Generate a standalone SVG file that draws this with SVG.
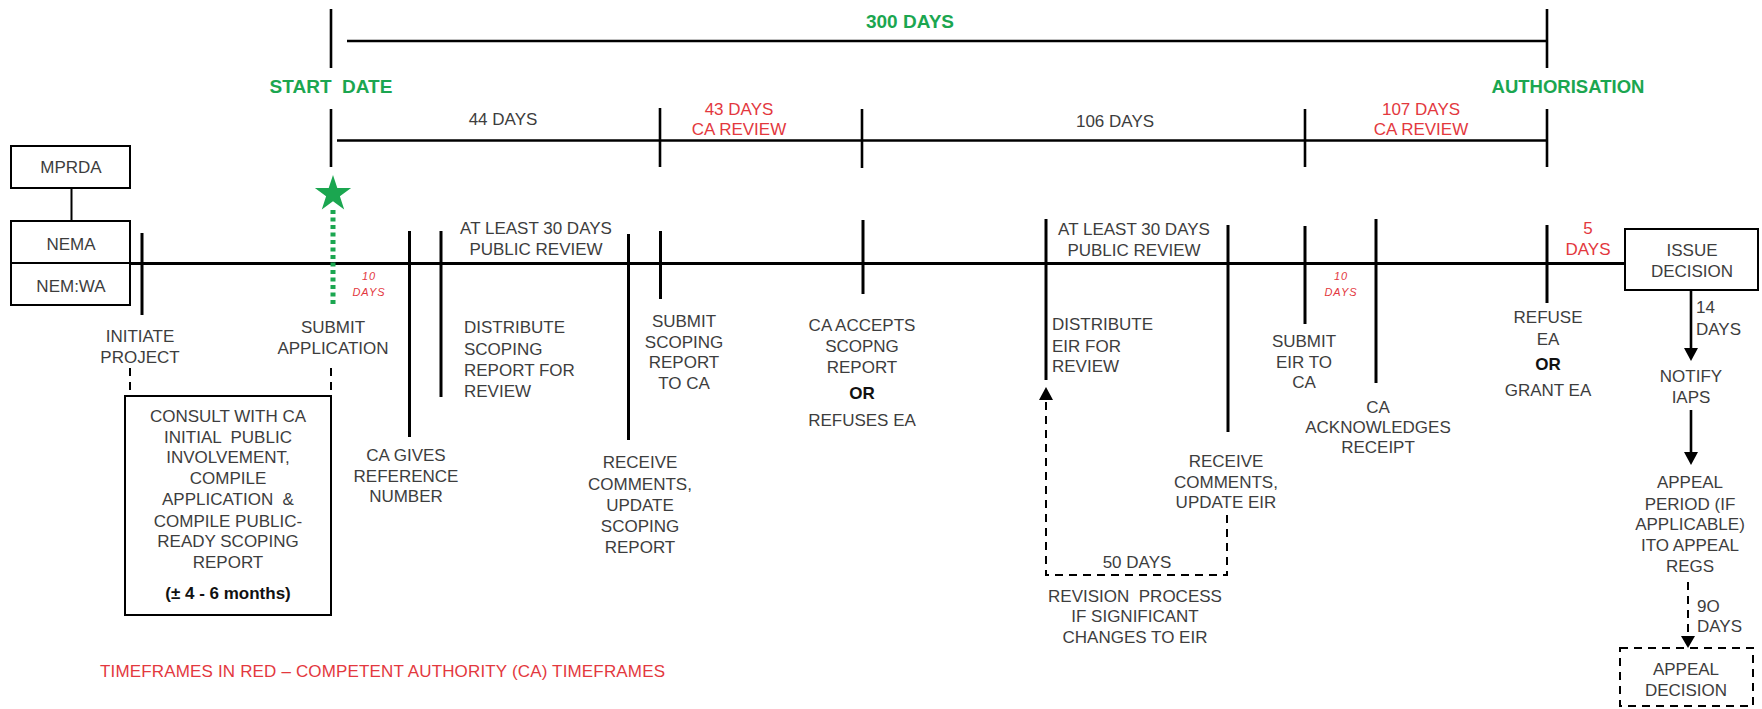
<svg xmlns="http://www.w3.org/2000/svg" width="1762" height="709" viewBox="0 0 1762 709">
<style>
text{font-family:"Liberation Sans",Arial,sans-serif;font-size:17px;fill:#3d3d3d}
.c{text-anchor:middle}
.red{fill:#e3383e}
.grn{font-weight:bold;fill:#1ba650;font-size:19px}
.b{font-weight:bold;fill:#111}
.sm{font-size:11px;font-style:italic;fill:#e3383e;letter-spacing:1px}
.ln{stroke:#000;stroke-width:3;fill:none}
.tk{stroke:#000;stroke-width:2.6;fill:none}
.dash{stroke:#000;stroke-width:2;stroke-dasharray:8 6;fill:none}
.box{fill:#fff;stroke:#000;stroke-width:2}
.dbox{fill:#fff;stroke:#000;stroke-width:2;stroke-dasharray:8 6}
.ah{fill:#000}
</style>

<g id="connectors">
  <!-- top 300 days scale -->
  <line class="tk" x1="331" y1="9" x2="331" y2="68"/>
  <line class="tk" x1="1547" y1="9" x2="1547" y2="68"/>
  <line class="tk" x1="347" y1="41" x2="1547" y2="41"/>
  <!-- second scale -->
  <line class="tk" x1="331" y1="109" x2="331" y2="167"/>
  <line class="tk" x1="337" y1="140.5" x2="1547" y2="140.5"/>
  <line class="tk" x1="660" y1="108" x2="660" y2="167"/>
  <line class="tk" x1="862" y1="109" x2="862" y2="168"/>
  <line class="tk" x1="1305" y1="109" x2="1305" y2="167"/>
  <line class="tk" x1="1547" y1="109" x2="1547" y2="167"/>
  <!-- main timeline -->
  <line class="ln" x1="11" y1="263.5" x2="1625" y2="263.5"/>
  <!-- MPRDA to NEMA -->
  <line class="box" x1="71.5" y1="188" x2="71.5" y2="221"/>
  <!-- timeline ticks -->
  <line class="ln" x1="142" y1="233" x2="142" y2="315"/>
  <line class="ln" x1="409.5" y1="231" x2="409.5" y2="437"/>
  <line class="ln" x1="441" y1="231" x2="441" y2="397"/>
  <line class="ln" x1="628.5" y1="234" x2="628.5" y2="440"/>
  <line class="ln" x1="660.5" y1="231" x2="660.5" y2="299"/>
  <line class="ln" x1="863" y1="220" x2="863" y2="294"/>
  <line class="ln" x1="1046" y1="219" x2="1046" y2="380"/>
  <line class="ln" x1="1228" y1="225" x2="1228" y2="432"/>
  <line class="ln" x1="1305" y1="226" x2="1305" y2="324"/>
  <line class="ln" x1="1376" y1="219" x2="1376" y2="383"/>
  <line class="ln" x1="1547" y1="225" x2="1547" y2="303"/>
  <!-- green start marker -->
  <line x1="333" y1="210" x2="333" y2="305" stroke="#1ba650" stroke-width="5" stroke-dasharray="4 3.5"/>
  <!-- dashed to consult box -->
  <line class="dash" x1="130" y1="368" x2="130" y2="395"/>
  <line class="dash" x1="331" y1="368" x2="331" y2="395"/>
  <!-- revision loop -->
  <polyline class="dash" points="1227,515 1227,575 1046,575 1046,400"/>
  <polygon class="ah" points="1046,387 1039,400 1053,400"/>
  <!-- right column arrows -->
  <line class="tk" x1="1691" y1="291" x2="1691" y2="349"/>
  <polygon class="ah" points="1684,348 1698,348 1691,361"/>
  <line class="tk" x1="1691" y1="410" x2="1691" y2="453"/>
  <polygon class="ah" points="1684,452 1698,452 1691,465"/>
  <line class="dash" x1="1688" y1="582" x2="1688" y2="638"/>
  <polygon class="ah" points="1681,636 1695,636 1688,648"/>
</g>

<g id="scale-labels">
  <text class="grn c" x="910" y="28">300 DAYS</text>
  <text class="grn c" x="331" y="93" xml:space="preserve">START  DATE</text>
  <text class="grn c" x="1568" y="93" style="font-size:18.5px">AUTHORISATION</text>
  <text class="c" x="503" y="125">44 DAYS</text>
  <text class="c red" x="739" y="115">43 DAYS</text>
  <text class="c red" x="739" y="135">CA REVIEW</text>
  <text class="c" x="1115" y="127">106 DAYS</text>
  <text class="c red" x="1421" y="115">107 DAYS</text>
  <text class="c red" x="1421" y="135">CA REVIEW</text>
</g>

<g id="mprda">
  <rect class="box" x="11" y="146" width="119" height="42"/>
  <text class="c" x="71" y="173">MPRDA</text>
</g>
<g id="nema">
  <rect class="box" x="11" y="221" width="119" height="42"/>
  <text class="c" x="71" y="250">NEMA</text>
</g>
<g id="nemwa">
  <rect class="box" x="11" y="263" width="119" height="42"/>
  <text class="c" x="71" y="292">NEM:WA</text>
</g>

<g id="initiate">
  <text class="c" x="140" y="342">INITIATE</text>
  <text class="c" x="140" y="363">PROJECT</text>
</g>

<g id="start-star">
  <polygon fill="#1ba650" points="333,175 337.3,188.1 351.1,188.1 339.9,196.3 344.2,209.4 333,201.3 321.8,209.4 326.1,196.3 314.9,188.1 328.7,188.1"/>
</g>

<g id="submit-application">
  <text class="c" x="333" y="333">SUBMIT</text>
  <text class="c" x="333" y="354">APPLICATION</text>
  <text class="c sm" x="369" y="280">10</text>
  <text class="c sm" x="369" y="296">DAYS</text>
</g>

<g id="consult">
  <rect class="box" x="125" y="396" width="206" height="219"/>
  <text class="c" x="228" y="422">CONSULT WITH CA</text>
  <text class="c" x="228" y="443" xml:space="preserve">INITIAL  PUBLIC</text>
  <text class="c" x="228" y="463">INVOLVEMENT,</text>
  <text class="c" x="228" y="484">COMPILE</text>
  <text class="c" x="228" y="505" xml:space="preserve">APPLICATION  &amp;</text>
  <text class="c" x="228" y="527">COMPILE PUBLIC-</text>
  <text class="c" x="228" y="547">READY SCOPING</text>
  <text class="c" x="228" y="568">REPORT</text>
  <text class="c b" x="228" y="599">(± 4 - 6 months)</text>
</g>

<g id="ca-gives">
  <text class="c" x="406" y="461">CA GIVES</text>
  <text class="c" x="406" y="482">REFERENCE</text>
  <text class="c" x="406" y="502">NUMBER</text>
</g>

<g id="public-review-1">
  <text class="c" x="536" y="234">AT LEAST 30 DAYS</text>
  <text class="c" x="536" y="255">PUBLIC REVIEW</text>
</g>

<g id="distribute-scoping">
  <text x="464" y="333">DISTRIBUTE</text>
  <text x="464" y="355">SCOPING</text>
  <text x="464" y="376">REPORT FOR</text>
  <text x="464" y="397">REVIEW</text>
</g>

<g id="receive-comments-1">
  <text class="c" x="640" y="468">RECEIVE</text>
  <text class="c" x="640" y="490">COMMENTS,</text>
  <text class="c" x="640" y="511">UPDATE</text>
  <text class="c" x="640" y="532">SCOPING</text>
  <text class="c" x="640" y="553">REPORT</text>
</g>

<g id="submit-scoping">
  <text class="c" x="684" y="327">SUBMIT</text>
  <text class="c" x="684" y="348">SCOPING</text>
  <text class="c" x="684" y="368">REPORT</text>
  <text class="c" x="684" y="389">TO CA</text>
</g>

<g id="ca-accepts">
  <text class="c" x="862" y="331">CA ACCEPTS</text>
  <text class="c" x="862" y="352">SCOPNG</text>
  <text class="c" x="862" y="373">REPORT</text>
  <text class="c b" x="862" y="399">OR</text>
  <text class="c" x="862" y="426">REFUSES EA</text>
</g>

<g id="distribute-eir">
  <text x="1052" y="330">DISTRIBUTE</text>
  <text x="1052" y="352">EIR FOR</text>
  <text x="1052" y="372">REVIEW</text>
</g>

<g id="public-review-2">
  <text class="c" x="1134" y="235">AT LEAST 30 DAYS</text>
  <text class="c" x="1134" y="256">PUBLIC REVIEW</text>
</g>

<g id="revision">
  <text class="c" x="1137" y="568">50 DAYS</text>
  <text class="c" x="1135" y="602" xml:space="preserve">REVISION  PROCESS</text>
  <text class="c" x="1135" y="622">IF SIGNIFICANT</text>
  <text class="c" x="1135" y="643">CHANGES TO EIR</text>
</g>

<g id="receive-comments-2">
  <text class="c" x="1226" y="467">RECEIVE</text>
  <text class="c" x="1226" y="488">COMMENTS,</text>
  <text class="c" x="1226" y="508">UPDATE EIR</text>
</g>

<g id="submit-eir">
  <text class="c" x="1304" y="347">SUBMIT</text>
  <text class="c" x="1304" y="368">EIR TO</text>
  <text class="c" x="1304" y="388">CA</text>
  <text class="c sm" x="1341" y="280">10</text>
  <text class="c sm" x="1341" y="296">DAYS</text>
</g>

<g id="ca-ack">
  <text class="c" x="1378" y="413">CA</text>
  <text class="c" x="1378" y="433">ACKNOWLEDGES</text>
  <text class="c" x="1378" y="453">RECEIPT</text>
</g>

<g id="refuse-grant">
  <text class="c" x="1548" y="323">REFUSE</text>
  <text class="c" x="1548" y="345">EA</text>
  <text class="c b" x="1548" y="370">OR</text>
  <text class="c" x="1548" y="396">GRANT EA</text>
  <text class="c red" x="1588" y="234">5</text>
  <text class="c red" x="1588" y="255">DAYS</text>
</g>

<g id="issue-decision">
  <rect class="box" x="1625" y="229" width="133" height="61"/>
  <text class="c" x="1692" y="256">ISSUE</text>
  <text class="c" x="1692" y="277">DECISION</text>
</g>

<g id="days-14">
  <text x="1696" y="313">14</text>
  <text x="1696" y="335">DAYS</text>
</g>

<g id="notify">
  <text class="c" x="1691" y="382">NOTIFY</text>
  <text class="c" x="1691" y="403">IAPS</text>
</g>

<g id="appeal-period">
  <text class="c" x="1690" y="488">APPEAL</text>
  <text class="c" x="1690" y="510">PERIOD (IF</text>
  <text class="c" x="1690" y="530">APPLICABLE)</text>
  <text class="c" x="1690" y="551">ITO APPEAL</text>
  <text class="c" x="1690" y="572">REGS</text>
</g>

<g id="days-90">
  <text x="1697" y="612">9O</text>
  <text x="1697" y="632">DAYS</text>
</g>

<g id="appeal-decision">
  <rect class="dbox" x="1620" y="648" width="133" height="58"/>
  <text class="c" x="1686" y="675">APPEAL</text>
  <text class="c" x="1686" y="696">DECISION</text>
</g>

<g id="legend">
  <text class="red" x="100" y="677" textLength="565" lengthAdjust="spacing">TIMEFRAMES IN RED – COMPETENT AUTHORITY (CA) TIMEFRAMES</text>
</g>
</svg>
